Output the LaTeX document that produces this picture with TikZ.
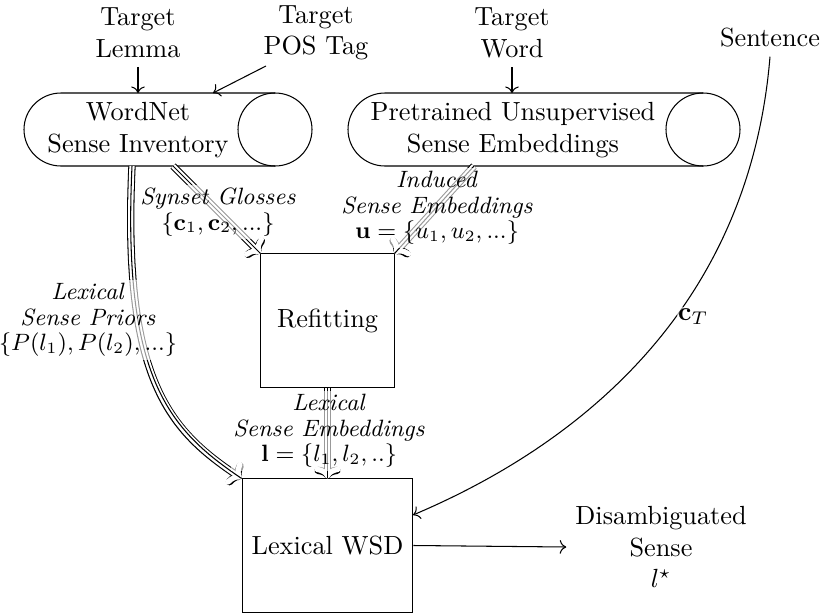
\documentclass[tikz,border=0pt]{standalone}
\usetikzlibrary{calc,arrows.meta}
\begin{document}
\begin{tikzpicture}[x=0.381pt, y=-0.381pt,
  txt/.style={align=center, inner sep=3.3pt},
  box/.style={draw, align=center, inner sep=3.3pt},
  lbl/.style={align=center, fill=white, fill opacity=0.6, text opacity=1, inner sep=1pt, font=\fontsize{9}{9.8}\selectfont},
  ttip/.style={-{To[length=4.5pt,width=10pt]}},
  triple/.style={preaction={draw=black, line width=2.8pt, ttip}, preaction={draw=white, line width=2pt, ttip}},
  arr/.style={->}
]
\useasboundingbox (0,0) rectangle (822,612);

% input texts
\node[txt] (lemma) at (138,33) {Target\\Lemma};
\node[txt] (pos) at (316,33) {Target\\POS Tag};
\node[txt] (word) at (512,33) {Target\\Word};
\node[txt] (sent) at (770,38) {Sentence};

% cylinders
\draw (275,93) -- (61,93) arc[start angle=270, end angle=90, x radius=37, y radius=36.5] -- (275,166);
\draw (275,129.5) ellipse [x radius=37, y radius=36.5];
\node[txt] (wn) at (138,130) {WordNet\\Sense Inventory};

\draw (703,93) -- (385,93) arc[start angle=270, end angle=90, x radius=37, y radius=36.5] -- (703,166);
\draw (703,129.5) ellipse [x radius=37, y radius=36.5];
\node[txt] (pt) at (513,130) {Pretrained Unsupervised\\Sense Embeddings};

\coordinate (wntop1) at (138,93);
\coordinate (wntop2) at (213,93);
\coordinate (pttop) at (512,93);
\coordinate (wnout1) at (132,166);
\coordinate (wnout2) at (173,166);
\coordinate (ptout) at (474,166);
\coordinate (posout) at (266,66);

% boxes
\node[box, minimum width=50.7pt, minimum height=50.7pt] (refit) at (327.5,320.5) {Refitting};
\node[box, minimum width=65.1pt, minimum height=50.7pt] (wsd) at (327.5,545.5) {Lexical WSD};
\node[txt] (dis) at (661,547) {Disambiguated\\Sense\\$l^\star$};
\coordinate (wsdin) at (413,515);

% input arrows
\draw[arr] (lemma) -- (wntop1);
\draw[arr] (posout) -- (wntop2);
\draw[arr] (word) -- (pttop);

% triple arrows
\draw[triple] (wnout2) -- (refit.north west);
\draw[triple] (ptout) -- (refit.north east);
\draw[triple] (refit.south) -- (wsd.north);
\draw[triple] (wnout1) .. controls (122,380) and (170,430) .. (wsd.north west);

% sentence arrow
\draw[arr] (sent.south) .. controls (750,300) and (590,440) .. (wsdin)
  node[pos=0.43, anchor=west, lbl, font=\normalsize, inner sep=0.5pt] (ct) {$\mathbf{c}_T$};

% output
\draw[arr] (wsd.east) -- (dis.west);

% labels
\node[lbl] (syn) at (218,212) {\textit{Synset Glosses}\\$\{\mathbf{c}_1,\mathbf{c}_2,...\}$};
\node[lbl] (ind) at (437,208) {\textit{Induced}\\\textit{Sense Embeddings}\\$\mathbf{u}=\{u_1,u_2,...\}$};
\node[lbl] (lsp) at (88,320) {\textit{Lexical}\\\textit{Sense Priors}\\$\{P(l_1),P(l_2),...\}$};
\node[lbl] (lse) at (329,431) {\textit{Lexical}\\\textit{Sense Embeddings}\\$\mathbf{l}=\{l_1,l_2,..\}$};
\end{tikzpicture}
\end{document}
